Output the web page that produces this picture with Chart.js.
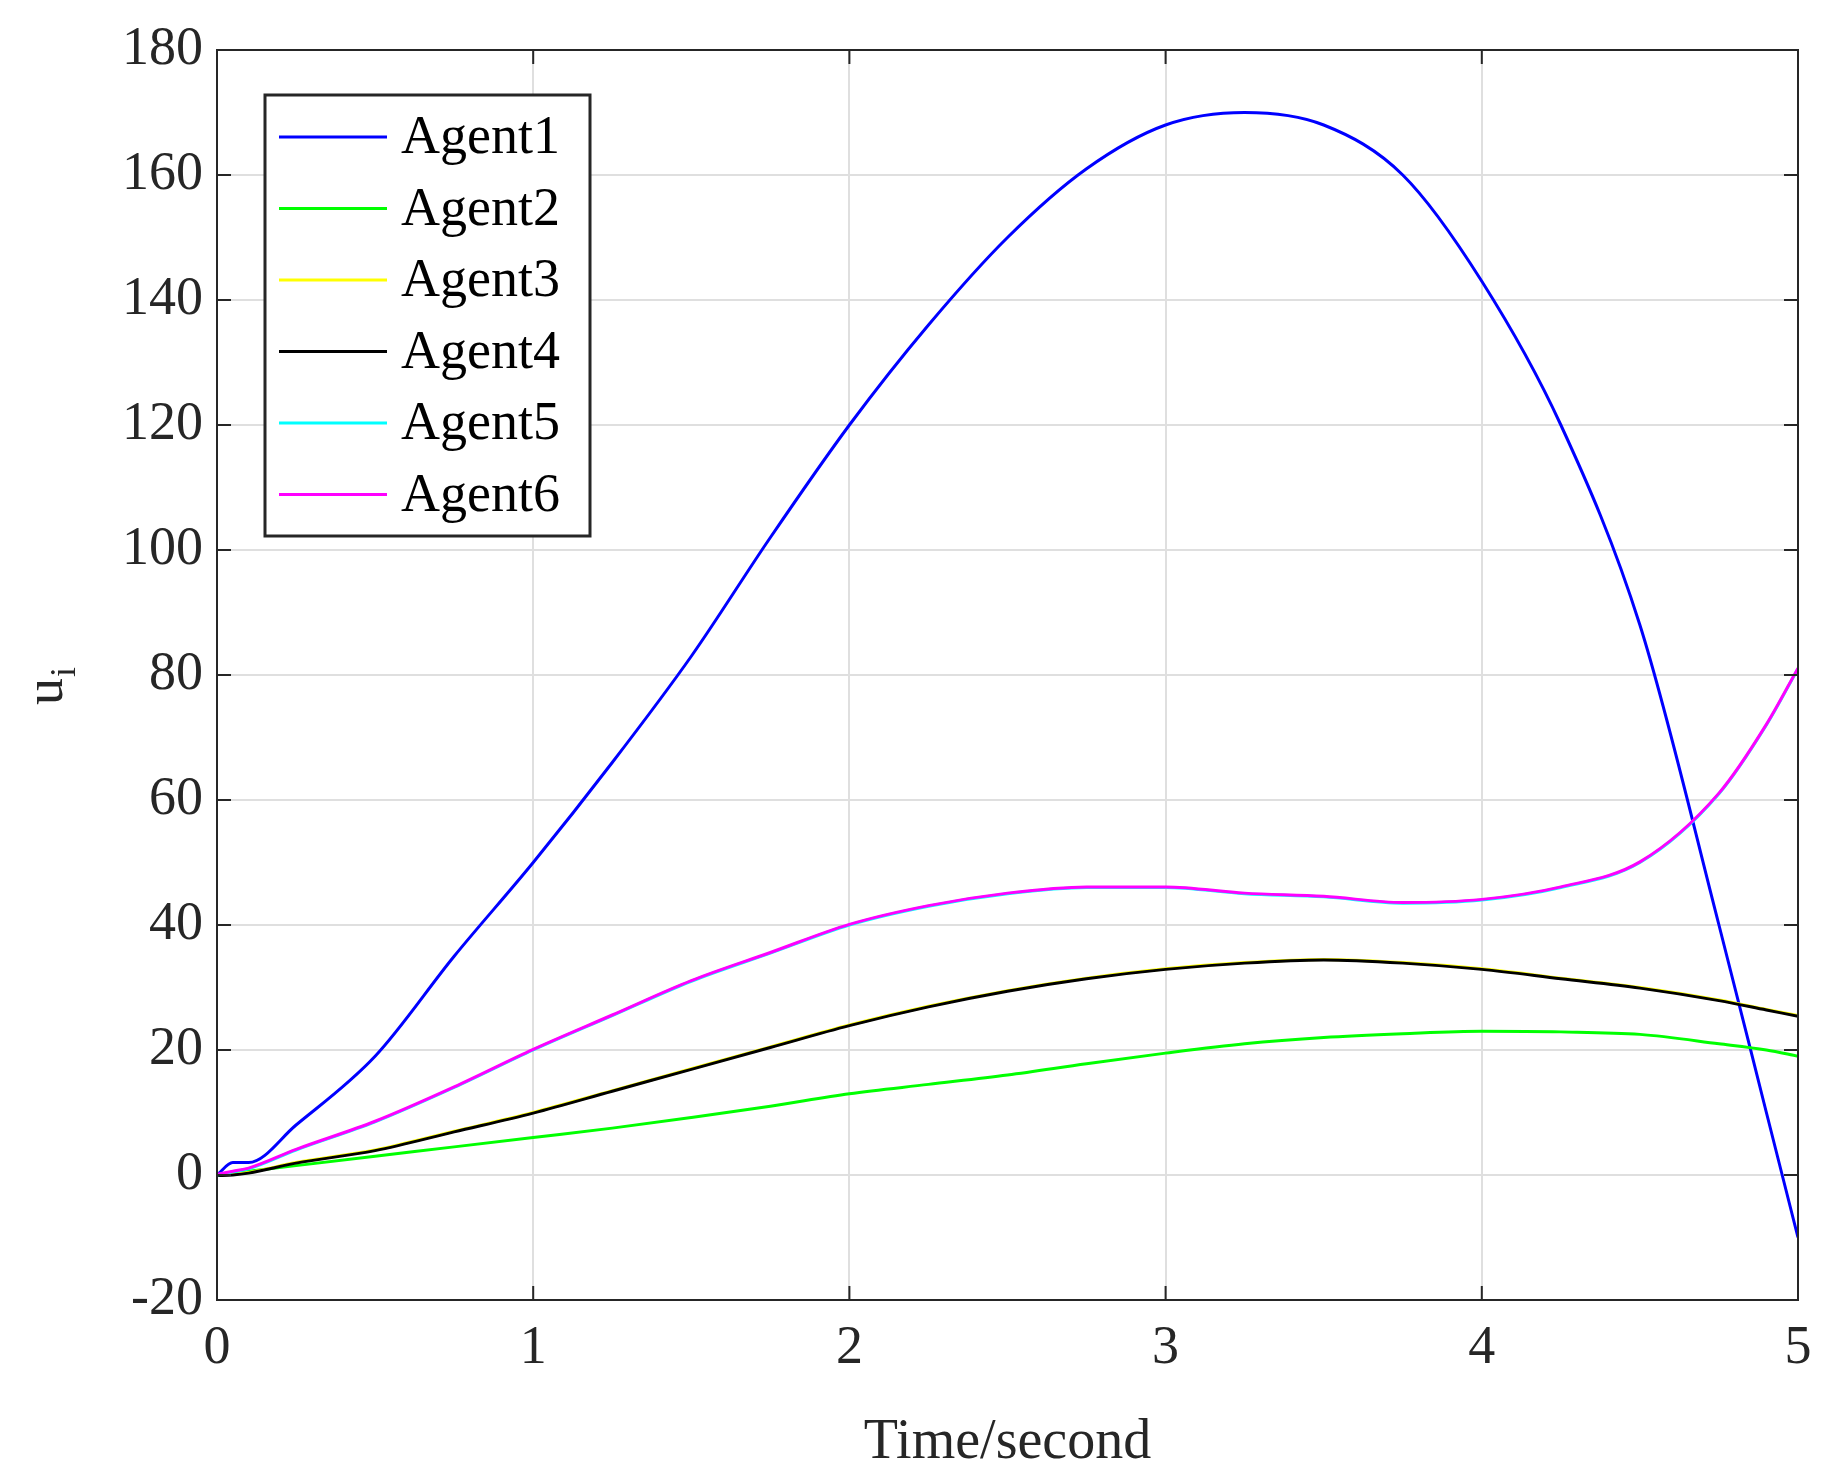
<!DOCTYPE html>
<html><head><meta charset="utf-8">
<script src="https://cdn.jsdelivr.net/npm/chart.js@4"></script>
<style>html,body{margin:0;background:#fff}#wrap{width:1836px;height:1481px}</style>
</head><body><div id="wrap"><canvas id="c"></canvas></div>
<script>
const times = [0,0.05,0.1,0.25,0.5,0.75,1,1.25,1.5,1.75,2,2.25,2.5,2.75,3,3.25,3.5,3.75,4,4.25,4.5,4.75,4.9,5];
const agent1 = [0,2,2,8,19,35,50,66,83,102,120,136,150,161,168,170,168,160,143,120,88,40,10,-10];
const agent2 = [0,0.3,0.6,1.5,3,4.5,6,7.5,9.2,11,13,14.5,16,17.8,19.5,21,22,22.6,23,22.9,22.5,21,20,19];
const agent3 = [0,0.1,0.4,2,4,7,10,13.5,17,20.5,24,27,29.5,31.5,33,34,34.5,34,33,31.5,30,28,26.5,25.5];
const agent4 = agent3.map(v => v - 0.1);
const agent5 = [0,0.5,1,4,8.5,14,20,25.5,31,35.5,40,43,45,46,46,45,44.5,43.5,44,46,50,61,72,81];
const agent6 = agent5.map(v => v + 0.1);
const names = ["Agent1","Agent2","Agent3","Agent4","Agent5","Agent6"];
const colors = ["#0000ff","#00ff00","#ffff00","#000000","#00ffff","#ff00ff"];
const series = [agent1,agent2,agent3,agent4,agent5,agent6];
const FONT = "'Liberation Serif', 'DejaVu Serif', serif";

const frame = {
  id: 'frame',
  afterDraw(chart) {
    const {ctx, chartArea: a, scales: {x, y}} = chart;
    ctx.save();
    ctx.strokeStyle = '#262626'; ctx.lineWidth = 2;
    ctx.strokeRect(a.left, a.top, a.right - a.left, a.bottom - a.top);
    ctx.beginPath();
    for (let t = 0; t <= 5; t++) { const px = x.getPixelForValue(t);
      ctx.moveTo(px, a.bottom); ctx.lineTo(px, a.bottom - 14); ctx.moveTo(px, a.top); ctx.lineTo(px, a.top + 14); }
    for (let v = -20; v <= 180; v += 20) { const py = y.getPixelForValue(v);
      ctx.moveTo(a.left, py); ctx.lineTo(a.left + 14, py); ctx.moveTo(a.right, py); ctx.lineTo(a.right - 14, py); }
    ctx.stroke();
    // legend
    const lx = a.left + 48, ly = a.top + 45, lw = 325, rh = 71.5, lh = rh * 6 + 12;
    ctx.fillStyle = '#fff'; ctx.fillRect(lx, ly, lw, lh);
    ctx.strokeStyle = '#262626'; ctx.lineWidth = 3; ctx.strokeRect(lx, ly, lw, lh);
    ctx.font = "54px " + FONT; ctx.textBaseline = 'middle';
    names.forEach((n, i) => {
      const cy = ly + 42 + i * rh;
      ctx.strokeStyle = colors[i]; ctx.lineWidth = 3;
      ctx.beginPath(); ctx.moveTo(lx + 14, cy); ctx.lineTo(lx + 122, cy); ctx.stroke();
      ctx.fillStyle = '#000'; ctx.fillText(n, lx + 136, cy + 2);
    });
    // y label
    ctx.save(); ctx.translate(48, (a.top + a.bottom) / 2 + 30); ctx.rotate(-Math.PI / 2);
    ctx.font = "54px " + FONT; ctx.fillStyle = '#262626'; ctx.textBaseline = 'middle';
    ctx.fillText('u', 0, 0); ctx.font = "36px " + FONT; ctx.fillText('i', 28, 18);
    ctx.restore();
    ctx.restore();
  }
};

new Chart(document.getElementById('c'), {
  type: 'line',
  data: { datasets: series.map((s, i) => ({
    label: names[i], data: times.map((t, j) => ({x: t, y: s[j]})),
    borderColor: colors[i], borderWidth: 3, pointRadius: 0, cubicInterpolationMode: 'monotone', fill: false,
    order: 6 - i
  })) },
  options: {
    responsive: true, maintainAspectRatio: false, animation: false,
    layout: { padding: { top: 50, right: 38, left: 0, bottom: 0 } },
    plugins: { legend: { display: false }, tooltip: { enabled: false } },
    scales: {
      x: { type: 'linear', min: 0, max: 5,
        ticks: { stepSize: 1, color: '#262626', font: { family: FONT, size: 54 }, padding: 16 },
        grid: { color: '#dfdfdf', lineWidth: 2, drawTicks: false },
        border: { display: false },
        title: { display: true, text: 'Time/second', color: '#262626', font: { family: FONT, size: 56 }, padding: { top: 0 } },
        afterFit(s) { s.height = 181; } },
      y: { min: -20, max: 180,
        ticks: { stepSize: 20, color: '#262626', font: { family: FONT, size: 54 }, padding: 14 },
        grid: { color: '#dfdfdf', lineWidth: 2, drawTicks: false },
        border: { display: false },
        afterFit(s) { s.width = 217; } }
    }
  },
  plugins: [frame]
});
</script></body></html>
